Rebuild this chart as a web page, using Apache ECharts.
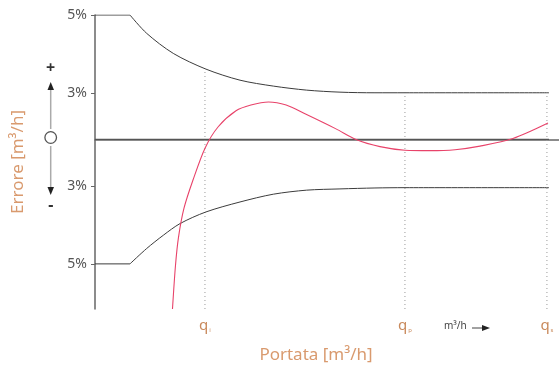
<!DOCTYPE html>
<html><head><meta charset="utf-8">
<script src="https://cdn.jsdelivr.net/npm/echarts@6/dist/echarts.min.js"></script>
<style>html,body{margin:0;padding:0;background:#fff}#c{width:559px;height:369px}</style>
</head><body><div id="c"></div>
<script>
// Error scale units: 3% -> 3, 5% -> 8 (non-linear chart scale)
const yTickValues = [8, 3, -3, -8];
const yTickLabels = ['5%', '3%', '3%', '5%'];
const xTickValues = [23.7, 66.8, 97.4];
const xTickSubs = ['i', 'p', 's'];

// flat limits at low flow
const upperFlatX = [0, 7.54];
const upperFlatY = [8, 8];
const lowerFlatX = [0, 7.54];
const lowerFlatY = [-8, -8];
// curved limits
const upperX = [7.54, 11.14, 16.88, 23.92, 31.25, 38.43, 45.62, 52.8, 60.34, 66.81, 97.84];
const upperY = [8, 6.82, 5.53, 4.52, 3.81, 3.43, 3.17, 3.04, 3.0, 3.0, 3.0];
const lowerX = [7.54, 11.14, 14.72, 18.32, 23.92, 31.25, 38.43, 45.62, 52.8, 60.34, 66.81, 97.84];
const lowerY = [-8, -7.01, -6.16, -5.41, -4.66, -4.02, -3.52, -3.26, -3.18, -3.12, -3.1, -3.1];
// meter error curve
const errX = [16.7, 17.35, 18.0, 19.18, 21.12, 23.71, 26.51, 30.39, 33.6, 37.4, 41.2, 45.26, 51.94, 56.25, 61.42, 66.81, 72.2, 77.59, 82.97, 90.09, 97.63];
const errY = [-10.9, -8.09, -6.28, -4.42, -2.61, -0.56, 0.8, 1.84, 2.21, 2.41, 2.21, 1.65, 0.68, 0.0, -0.46, -0.69, -0.72, -0.66, -0.43, 0.06, 1.05];
const zeroX = [0, 97.84];
const zeroY = [0, 0];
const guideTops = [4.52, 3, 3];

const Y_MIN = -10.9, Y_MAX = 8;
const zip = (xs, ys) => xs.map((x, i) => [x, ys[i]]);

const dark = '#3c3c3c';
const limitLine = (xs, ys, smooth) => ({ type: 'line', data: zip(xs, ys), smooth: smooth, showSymbol: false, lineStyle: { color: dark, width: 1 }, z: 3 });
const series = [
  limitLine(upperFlatX, upperFlatY, false),
  limitLine(lowerFlatX, lowerFlatY, false),
  limitLine(upperX, upperY, 0.3),
  limitLine(lowerX, lowerY, 0.3),
  { type: 'line', data: zip(zeroX, zeroY), showSymbol: false, lineStyle: { color: '#555', width: 1.2 }, z: 3 },
  { type: 'line', data: zip(errX, errY), smooth: 0.3, showSymbol: false, lineStyle: { color: '#e8436a', width: 1.1 }, z: 4 }
];
xTickValues.forEach((x, i) => {
  series.push({ type: 'line', data: [[x, Y_MIN], [x, guideTops[i]]], showSymbol: false,
    lineStyle: { color: '#9a9a9a', width: 1, type: [1, 3] }, z: 2 });
});

const chart = echarts.init(document.getElementById('c'));
const font = '"Noto Sans", sans-serif';
chart.setOption({
  animation: false,
  grid: { left: 95, right: 0, top: 15, bottom: 60 },
  xAxis: {
    type: 'value', min: 0, max: 100,
    splitLine: { show: false },
    axisLine: { show: true, lineStyle: { color: '#666', width: 1.5 } },
    axisTick: { show: false },
    axisLabel: {
      customValues: xTickValues, margin: 9,
      formatter: v => { const i = xTickValues.indexOf(v); return '{q|q}{s|' + (xTickSubs[i] || '') + '}'; },
      rich: {
        q: { fontFamily: font, fontSize: 15, color: '#c98a5c' },
        s: { fontFamily: font, fontSize: 6, color: '#c98a5c', verticalAlign: 'bottom', padding: [5, 0, 0, 1] }
      }
    }
  },
  yAxis: {
    type: 'value', min: Y_MIN, max: Y_MAX,
    splitLine: { show: false },
    axisLine: { show: true, lineStyle: { color: '#666', width: 1.5 } },
    axisTick: { show: true, customValues: yTickValues, length: 4, lineStyle: { color: '#666' } },
    axisLabel: {
      customValues: yTickValues, margin: 8,
      formatter: v => yTickLabels[yTickValues.indexOf(v)] || '',
      fontFamily: font, fontSize: 14, color: '#555'
    },
    name: 'Errore [m³/h]', nameLocation: 'middle', nameGap: 68, nameRotate: 90,
    nameTextStyle: { fontFamily: font, fontSize: 17, color: '#d99a6e' }
  },
  series: series,
  graphic: [
    { type: 'text', x: 316, y: 355, style: { text: 'Portata [m³/h]', font: '17px ' + font, fill: '#d99a6e', align: 'center', verticalAlign: 'middle' } },
    { type: 'text', left: 444, top: 321, style: { text: 'm³/h', font: '10px ' + font, fill: '#444' } },
    { type: 'line', shape: { x1: 472, y1: 328, x2: 482, y2: 328 }, style: { stroke: '#444', lineWidth: 1 } },
    { type: 'polygon', shape: { points: [[482, 325], [482, 331], [490, 328]] }, style: { fill: '#222' } },
    { type: 'text', x: 50.7, y: 68, style: { text: '+', font: 'bold 16px ' + font, fill: '#333', align: 'center', verticalAlign: 'middle' } },
    { type: 'polygon', shape: { points: [[50.7, 82], [47.5, 90], [54, 90]] }, style: { fill: '#222' } },
    { type: 'line', shape: { x1: 50.7, y1: 90, x2: 50.7, y2: 129 }, style: { stroke: '#aaa', lineWidth: 1.5 } },
    { type: 'circle', shape: { cx: 50.7, cy: 137.5, r: 5.8 }, style: { stroke: '#555', lineWidth: 1.3, fill: 'none' } },
    { type: 'line', shape: { x1: 50.7, y1: 146, x2: 50.7, y2: 187 }, style: { stroke: '#aaa', lineWidth: 1.5 } },
    { type: 'polygon', shape: { points: [[47.5, 187], [54, 187], [50.7, 195]] }, style: { fill: '#222' } },
    { type: 'text', x: 50.7, y: 205, style: { text: '-', font: 'bold 16px ' + font, fill: '#333', align: 'center', verticalAlign: 'middle' } }
  ]
});
</script></body></html>
